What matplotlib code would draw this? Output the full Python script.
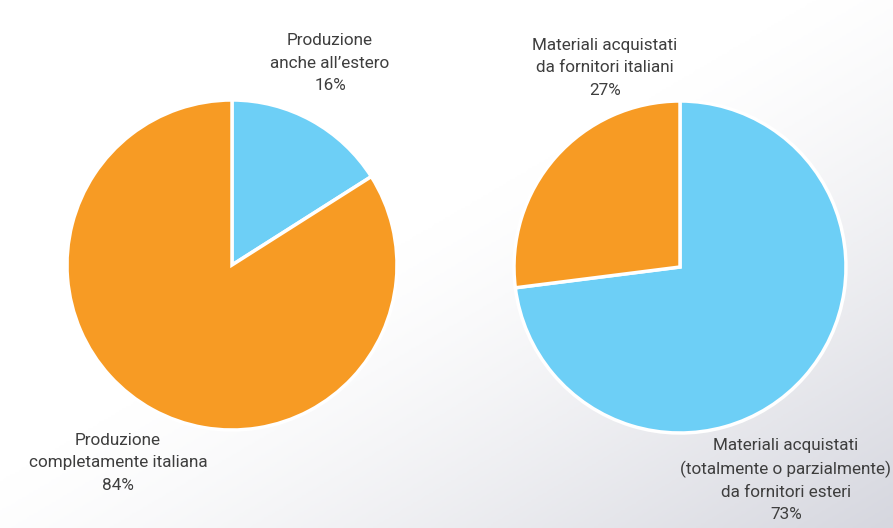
import numpy as np
import matplotlib
matplotlib.use("Agg")
import matplotlib.pyplot as plt
from matplotlib.colors import LinearSegmentedColormap

plt.rcParams['font.family'] = ['Roboto', 'DejaVu Sans']

# Data
left_labels = ["Produzione\nanche all\u2019estero", "Produzione\ncompletamente italiana"]
left_values = [16, 84]
right_labels = ["Materiali acquistati\n(totalmente o parzialmente)\nda fornitori esteri",
                "Materiali acquistati\nda fornitori italiani"]
right_values = [73, 27]

BLUE = "#6dcff6"
ORANGE = "#f79b24"
TEXT = "#3e3e3e"

W, H = 893, 528
fig = plt.figure(figsize=(W / 100, H / 100), dpi=100)

# Diagonal background gradient (white top-left, light grey bottom-right)
bg = fig.add_axes([0, 0, 1, 1])
xx, yy = np.meshgrid(np.linspace(0, 1, 400), np.linspace(0, 1, 240))
t = (xx + yy) / 2.0
t = np.clip((t - 0.45) / 0.55, 0, 1) ** 1.3
cmap = LinearSegmentedColormap.from_list("bg", ["#ffffff", "#d6d7df"])
bg.imshow(t, cmap=cmap, aspect="auto", extent=[0, 1, 0, 1], origin="upper", vmin=0, vmax=1)
bg.set_axis_off()


def px_axes(cx, cy, r):
    return fig.add_axes([(cx - r) / W, (H - cy - r) / H, 2 * r / W, 2 * r / H])


wedge_style = dict(edgecolor="white", linewidth=2.5)

ax1 = px_axes(232, 265, 165)
ax1.pie(left_values, colors=[BLUE, ORANGE], startangle=90, counterclock=False,
        wedgeprops=wedge_style, radius=1.0)
ax1.set_xlim(-1.0, 1.0); ax1.set_ylim(-1.0, 1.0)
ax1.set_axis_off()

ax2 = px_axes(680, 267, 166)
ax2.pie(right_values, colors=[BLUE, ORANGE], startangle=90, counterclock=False,
        wedgeprops=wedge_style, radius=1.0)
ax2.set_xlim(-1.0, 1.0); ax2.set_ylim(-1.0, 1.0)
ax2.set_axis_off()

txt = dict(ha="center", va="center", color=TEXT, fontsize=12.3, linespacing=1.6)


def label(x, y, name, val):
    fig.text(x / W, 1 - y / H, f"{name}\n{val}%", **txt)


label(330, 63, left_labels[0], left_values[0])
label(118, 463, left_labels[1], left_values[1])
label(605, 68, right_labels[1], right_values[1])
label(786, 480, right_labels[0], right_values[0])

fig.savefig("out.png", dpi=100)
